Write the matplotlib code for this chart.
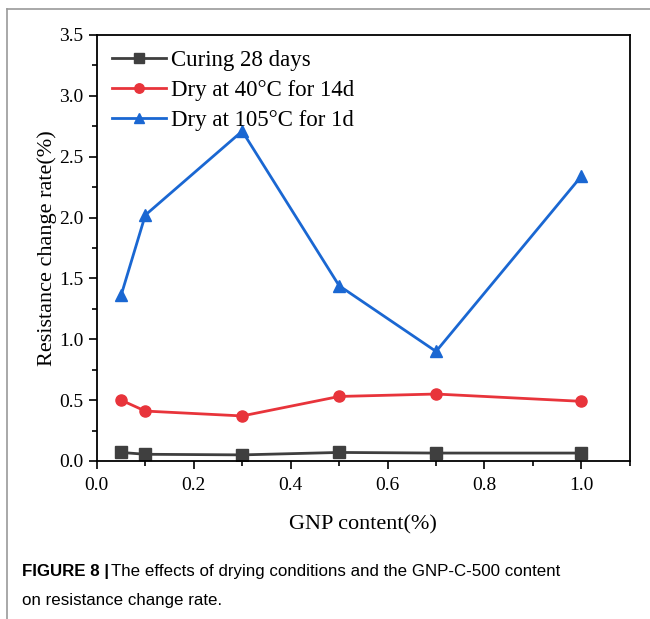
import matplotlib
matplotlib.use("Agg")
import matplotlib.pyplot as plt
from matplotlib.lines import Line2D
from matplotlib.ticker import MultipleLocator

# GNP content (%) and resistance change rate (%) per drying condition
gnp_content = [0.05, 0.1, 0.3, 0.5, 0.7, 1.0]
curing_28d = [0.07, 0.055, 0.05, 0.07, 0.065, 0.065]
dry_40c_14d = [0.50, 0.41, 0.37, 0.53, 0.55, 0.49]
dry_105c_1d = [1.36, 2.02, 2.71, 1.44, 0.90, 2.34]

labels = ["Curing 28 days", "Dry at 40°C for 14d", "Dry at 105°C for 1d"]
colors = ["#3f3f3f", "#e8343b", "#1a67d2"]
markers = ["s", "o", "^"]

serif = ["Liberation Serif", "DejaVu Serif"]

fig = plt.figure(figsize=(6.5, 6.19), dpi=100)
ax = fig.add_axes([0.149, 0.2553, 0.82, 0.6882])

for ys, lab, c, m in zip([curing_28d, dry_40c_14d, dry_105c_1d], labels, colors, markers):
    ax.plot(gnp_content, ys, color=c, marker=m, markersize=8, linewidth=2, label=lab)

ax.set_xlim(0, 1.1)
ax.set_ylim(0, 3.5)
ax.xaxis.set_major_locator(MultipleLocator(0.2))
ax.xaxis.set_minor_locator(MultipleLocator(0.1))
ax.yaxis.set_major_locator(MultipleLocator(0.5))
ax.yaxis.set_minor_locator(MultipleLocator(0.25))
ax.tick_params(which="major", direction="out", length=6, width=1.2, top=False, right=False)
ax.tick_params(which="minor", direction="out", length=3.5, width=1.2, top=False, right=False)
ax.tick_params(axis="x", which="major", pad=5.5)
for sp in ax.spines.values():
    sp.set_linewidth(1.3)

for t in ax.get_xticklabels() + ax.get_yticklabels():
    t.set_fontfamily(serif)
    t.set_fontsize(14)

ax.set_xlabel("GNP content(%)", fontfamily=serif, fontsize=16, labelpad=15)
ax.set_ylabel("Resistance change rate(%)", fontfamily=serif, fontsize=16, labelpad=2)

leg = ax.legend(loc="upper left", frameon=False, prop={"family": serif, "size": 16.5},
                handlelength=2.35, handletextpad=0.25, labelspacing=0.4,
                borderaxespad=0.4, borderpad=0.25, markerscale=0.85)

# page frame lines
fig.add_artist(Line2D([0.011, 1.0], [0.985, 0.985], color="#9a9a9a", linewidth=1.2,
                      transform=fig.transFigure))
fig.add_artist(Line2D([0.011, 0.011], [0.0, 0.985], color="#9a9a9a", linewidth=1.2,
                      transform=fig.transFigure))

# caption
cap_font = ["Liberation Sans"]
t1 = fig.text(0.034, 0.07, "FIGURE 8 |", fontfamily=cap_font, fontsize=12.2,
              fontweight="bold", va="baseline")
fig.canvas.draw()
bb = t1.get_window_extent(fig.canvas.get_renderer())
x2 = bb.x1 / fig.bbox.width + 0.003
fig.text(x2, 0.07, "The effects of drying conditions and the GNP-C-500 content",
         fontfamily=cap_font, fontsize=12.2, va="baseline")
fig.text(0.034, 0.022, "on resistance change rate.", fontfamily=cap_font,
         fontsize=12.2, va="baseline")

fig.savefig("out.png", dpi=100)
